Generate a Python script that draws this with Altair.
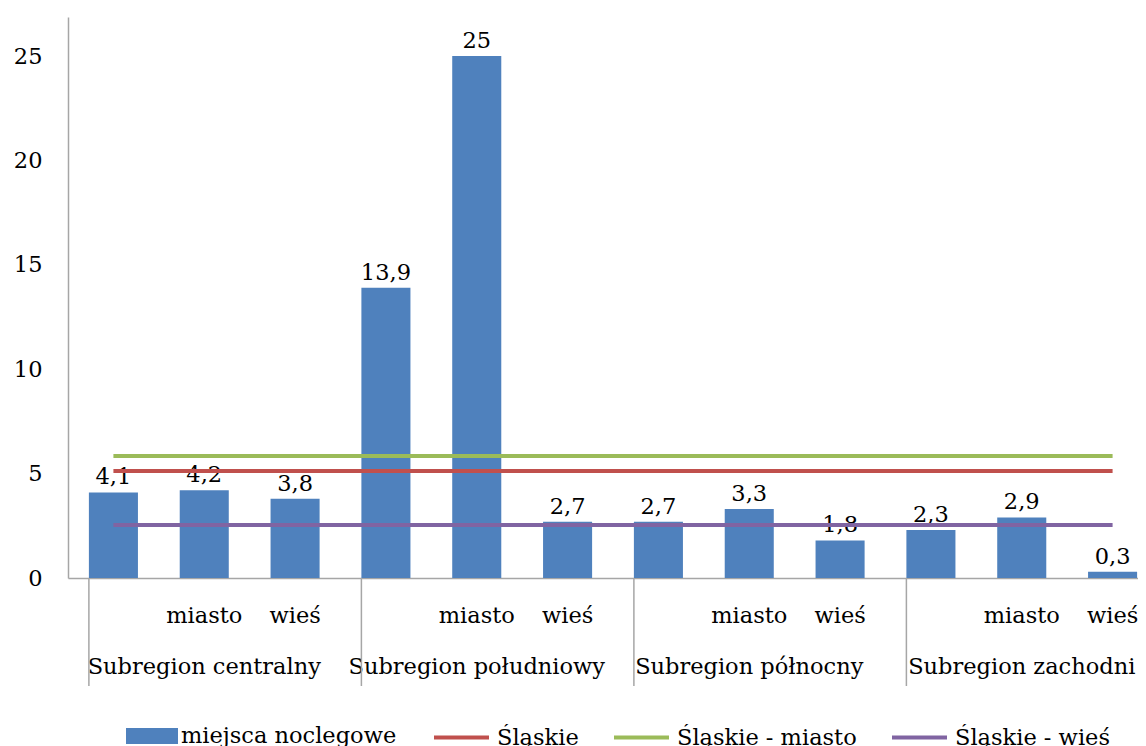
import altair as alt
import pandas as pd

# ---- data ----
subregions = ["Subregion centralny", "Subregion południowy", "Subregion północny", "Subregion zachodni"]
sub_labels = ["", "miasto", "wieś"]
bar_values = [4.1, 4.2, 3.8, 13.9, 25.0, 2.7, 2.7, 3.3, 1.8, 2.3, 2.9, 0.3]
bar_series = "miejsca noclegowe"
ref_names = ["Śląskie", "Śląskie - miasto", "Śląskie - wieś"]
ref_values = [5.13, 5.84, 2.54]
y_ticks = [0, 5, 10, 15, 20, 25]

bar_color = "#4F81BD"
ref_colors = ["#C0504D", "#9BBB59", "#8064A2"]
FONT = "DejaVu Serif"
FS = 22.5
GRAY = "#A6A6A6"

keys = [f"{g}|{s}" for g in subregions for s in sub_labels]
bars = pd.DataFrame({
    "key": keys,
    "value": bar_values,
    "label": [f"{v:g}".replace(".", ",") for v in bar_values],
    "sub": [s for g in subregions for s in sub_labels],
    "series": bar_series,
})
groups = pd.DataFrame({
    "group": subregions,
    "mid": [f"{g}|{sub_labels[1]}" for g in subregions],
    "first": [f"{g}|{sub_labels[0]}" for g in subregions],
})
refs = pd.DataFrame({
    "series": ref_names,
    "value": ref_values,
    "start": keys[0],
    "end": keys[-1],
})

W, H = 1070, 561
xscale = alt.Scale(domain=keys, range=[0, 1090], paddingInner=0.46, paddingOuter=0.23)
yscale = alt.Scale(domain=[0, 26.87], nice=False, zero=True)

x_enc = alt.X("key:N", scale=xscale, sort=keys,
              axis=alt.Axis(labels=False, ticks=False, title=None, domainColor=GRAY, domainWidth=1.5, grid=False))
y_enc = alt.Y("value:Q", scale=yscale,
              axis=alt.Axis(values=y_ticks, grid=False, ticks=False, title=None, labelPadding=26,
                            labelFont=FONT, labelFontSize=FS, labelColor="black",
                            domainColor=GRAY, domainWidth=1.5))

bar_layer = alt.Chart(bars).mark_bar(color=bar_color).encode(
    x=x_enc, y=y_enc,
    fill=alt.Fill("series:N", scale=alt.Scale(domain=[bar_series], range=[bar_color]),
                  legend=alt.Legend(orient="none", legendX=58, legendY=693, title=None,
                                    symbolType="M-1,-0.31H1V0.31H-1Z", symbolSize=2704,
                                    symbolStrokeWidth=0, labelFont=FONT, labelFontSize=FS,
                                    labelColor="black", labelOffset=3, padding=0, labelLimit=500)),
)

label_layer = alt.Chart(bars).mark_text(font=FONT, fontSize=FS, baseline="alphabetic", dy=-8, color="black").encode(
    x=alt.X("key:N", scale=xscale, sort=keys),
    y=alt.Y("value:Q", scale=yscale),
    text="label:N",
)

ref_layer = alt.Chart(refs).mark_rule(strokeWidth=4).encode(
    x=alt.X("start:N", scale=xscale),
    x2="end:N",
    y=alt.Y("value:Q", scale=yscale),
    stroke=alt.Stroke("series:N", scale=alt.Scale(domain=ref_names, range=ref_colors),
                      legend=alt.Legend(orient="none", legendX=364, legendY=691, title=None,
                                        direction="horizontal", columns=3, columnPadding=27,
                                        symbolType="stroke", symbolSize=3025, symbolStrokeWidth=4,
                                        labelFont=FONT, labelFontSize=FS, labelColor="black",
                                        labelOffset=6, padding=0, labelLimit=500)),
)

sub_layer = alt.Chart(bars).mark_text(font=FONT, fontSize=FS, baseline="alphabetic", color="black").encode(
    x=alt.X("key:N", scale=xscale, sort=keys),
    y=alt.value(606),
    text="sub:N",
)

group_layer = alt.Chart(groups).mark_text(font=FONT, fontSize=FS, baseline="alphabetic", color="black").encode(
    x=alt.X("mid:N", scale=xscale),
    y=alt.value(657),
    text="group:N",
)

sep_layer = alt.Chart(groups).mark_rule(color=GRAY, strokeWidth=1.5).encode(
    x=alt.X("first:N", scale=xscale, bandPosition=0),
    y=alt.value(H),
    y2=alt.value(H + 108),
)

chart = alt.layer(bar_layer, label_layer, ref_layer, sub_layer, group_layer, sep_layer).properties(
    width=W, height=H,
    autosize=alt.AutoSizeParams(type="none"),
    padding={"left": 60, "top": 9, "right": 0, "bottom": 168},
).configure_view(stroke=None).resolve_scale(fill="independent", stroke="independent")

chart.save("out.html", embed_options={"renderer": "svg", "actions": False})
